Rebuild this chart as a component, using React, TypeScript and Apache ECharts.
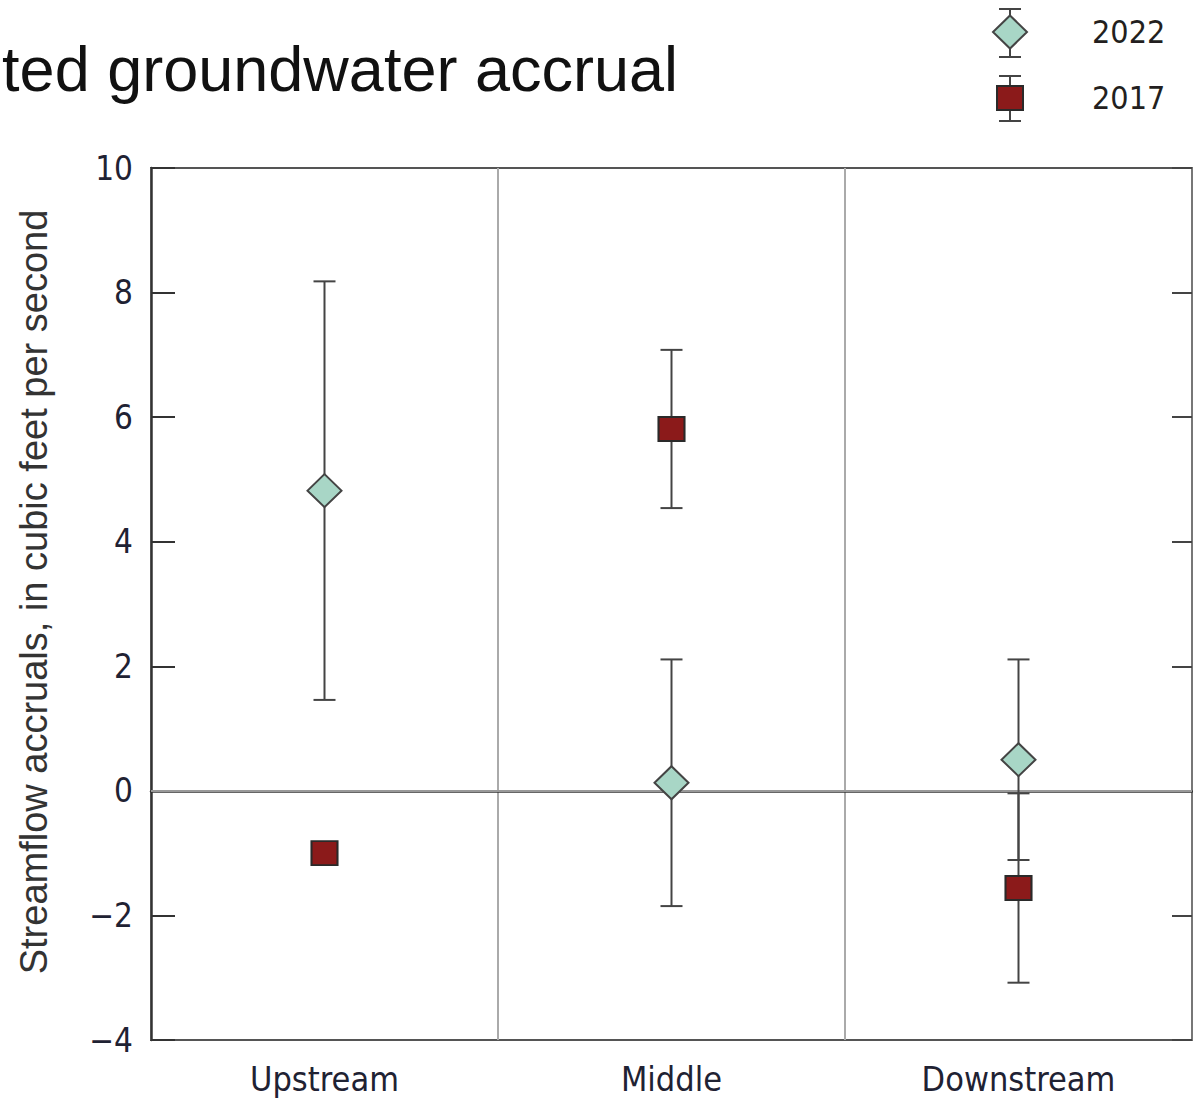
import React, { useEffect, useRef } from "react";
import * as echarts from "echarts";

// Reach categories along the stream
const reaches = ["Upstream", "Middle", "Downstream"];

// Streamflow accruals (cubic feet per second) and their uncertainty (±)
const accrual2022 = [4.82, 0.13, 0.5];
const error2022 = [3.36, 1.98, 1.61];
const accrual2017 = [-1.0, 5.81, -1.56];
const error2017: (number | null)[] = [null, 1.27, 1.52];

// Value axis ticks
const yMin = -4;
const yMax = 10;
const yStep = 2;

const titleText = "ted groundwater accrual";
const yTitle = "Streamflow accruals, in cubic feet per second";

const narrowFont =
  "'Liberation Sans Narrow', 'DejaVu Sans Condensed', 'Roboto', sans-serif";
const plainFont = "'Liberation Sans', Arial, sans-serif";

const teal = "#a8d6c6";
const maroon = "#8b1a1a";
const ink = "#444444";

function whiskers(values: number[], errors: (number | null)[]) {
  const rows: number[][] = [];
  values.forEach((v, i) => {
    const e = errors[i];
    if (e != null) rows.push([i, v - e, v + e]);
  });
  return rows;
}

function errorBarRender(params: any, api: any) {
  const x = api.value(0);
  const lo = api.coord([x, api.value(1)]);
  const hi = api.coord([x, api.value(2)]);
  const half = 11;
  const style = { stroke: ink, lineWidth: 2 };
  return {
    type: "group",
    children: [
      { type: "line", shape: { x1: hi[0], y1: hi[1], x2: lo[0], y2: lo[1] }, style },
      { type: "line", shape: { x1: hi[0] - half, y1: hi[1], x2: hi[0] + half, y2: hi[1] }, style },
      { type: "line", shape: { x1: lo[0] - half, y1: lo[1], x2: lo[0] + half, y2: lo[1] }, style },
    ],
  };
}

function legendEntry(cy: number, top: number, bottom: number, marker: any, label: string) {
  const cx = 1010;
  const style = { stroke: ink, lineWidth: 2 };
  return [
    { type: "line", shape: { x1: cx, y1: top, x2: cx, y2: bottom }, style },
    { type: "line", shape: { x1: cx - 11, y1: top, x2: cx + 11, y2: top }, style },
    { type: "line", shape: { x1: cx - 11, y1: bottom, x2: cx + 11, y2: bottom }, style },
    marker,
    {
      type: "text",
      x: 1092,
      y: cy,
      style: {
        text: label,
        font: `32px ${narrowFont}`,
        fill: "#231f20",
        textAlign: "left",
        textVerticalAlign: "middle",
      },
    },
  ];
}

export default function App() {
  const ref = useRef<HTMLDivElement>(null);

  useEffect(() => {
    if (!ref.current) return;
    const chart = echarts.init(ref.current, null, { renderer: "svg" });

    const option: any = {
      animation: false,
      backgroundColor: "#ffffff",
      grid: {
        left: 151,
        right: 1,
        top: 168,
        bottom: 61,
        show: true,
        borderColor: "#555",
        borderWidth: 2,
      },
      xAxis: {
        type: "category",
        data: reaches,
        boundaryGap: true,
        axisLine: { lineStyle: { color: "#333", width: 2.5 } },
        axisTick: { show: false },
        axisLabel: {
          color: "#1f2233",
          fontSize: 34,
          fontFamily: narrowFont,
          margin: 22,
        },
        splitLine: { show: true, lineStyle: { color: "#aaaaaa", width: 2 } },
      },
      yAxis: [
        {
          type: "value",
          min: yMin,
          max: yMax,
          interval: yStep,
          axisLine: { show: true, lineStyle: { color: "#333", width: 2.5 } },
          axisTick: { show: true, inside: true, length: 24, lineStyle: { color: "#333", width: 2 } },
          axisLabel: {
            color: "#1f2233",
            fontSize: 33,
            fontFamily: narrowFont,
            margin: 18,
            formatter: (v: number) => (v < 0 ? "\u2212" + Math.abs(v) : String(v)),
          },
          splitLine: { show: false },
        },
        {
          type: "value",
          position: "right",
          min: yMin,
          max: yMax,
          interval: yStep,
          axisLine: { show: true, lineStyle: { color: "#777", width: 2 } },
          axisTick: { show: true, inside: true, length: 20, lineStyle: { color: "#444", width: 2 } },
          axisLabel: { show: false },
          splitLine: { show: false },
        },
      ],
      series: [
        {
          name: "2022 range",
          type: "custom",
          renderItem: errorBarRender,
          data: whiskers(accrual2022, error2022),
          encode: { x: 0, y: [1, 2] },
          z: 3,
          silent: true,
        },
        {
          name: "2017 range",
          type: "custom",
          renderItem: errorBarRender,
          data: whiskers(accrual2017, error2017),
          encode: { x: 0, y: [1, 2] },
          z: 3,
          silent: true,
        },
        {
          name: "2022",
          type: "scatter",
          data: accrual2022,
          symbol: "diamond",
          symbolSize: [34, 33],
          itemStyle: { color: teal, borderColor: ink, borderWidth: 2, opacity: 1 },
          z: 5,
          markLine: {
            silent: true,
            symbol: "none",
            label: { show: false },
            lineStyle: { color: "#999", width: 2, type: "solid" },
            data: [{ yAxis: 0 }],
            z: 1,
          },
        },
        {
          name: "2017",
          type: "scatter",
          data: accrual2017,
          symbol: "rect",
          symbolSize: [26, 24],
          itemStyle: { color: maroon, borderColor: "#2a2a2a", borderWidth: 2, opacity: 1 },
          z: 5,
        },
      ],
      graphic: [
        {
          type: "text",
          x: 678,
          y: 100,
          style: {
            text: titleText,
            font: `63px ${plainFont}`,
            fill: "#111",
            textAlign: "right",
            textVerticalAlign: "bottom",
          },
        },
        {
          type: "text",
          x: 34,
          y: 592,
          rotation: Math.PI / 2,
          style: {
            text: yTitle,
            font: `38px ${plainFont}`,
            fill: "#333",
            textAlign: "center",
            textVerticalAlign: "middle",
          },
        },
        ...legendEntry(
          32,
          9,
          57,
          {
            type: "polygon",
            shape: { points: [[1010, 15.5], [1027, 32], [1010, 48.5], [993, 32]] },
            style: { fill: teal, stroke: ink, lineWidth: 2 },
            z: 10,
          },
          "2022"
        ),
        ...legendEntry(
          98,
          76,
          121,
          {
            type: "rect",
            shape: { x: 997, y: 86, width: 26, height: 24 },
            style: { fill: maroon, stroke: "#2a2a2a", lineWidth: 2 },
            z: 10,
          },
          "2017"
        ),
      ],
    };

    chart.setOption(option);
    return () => chart.dispose();
  }, []);

  return (
    <div
      ref={ref}
      style={{ position: "fixed", left: 0, top: 0, width: 1193, height: 1101 }}
    />
  );
}
